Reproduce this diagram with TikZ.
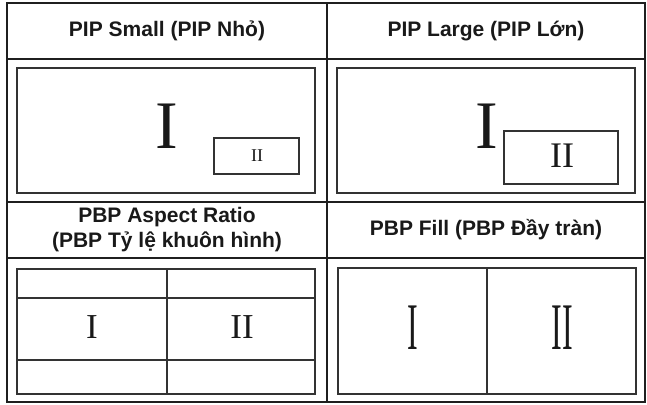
\documentclass[tikz,border=0pt]{standalone}
\usepackage{fontspec}
\setmainfont{Liberation Sans}
\newfontfamily\numfont{Liberation Serif}
\begin{document}
\begin{tikzpicture}[x=1pt,y=-1pt,
  outer/.style={draw=black!88,line width=2pt},
  inner/.style={draw=black!80,line width=1.3pt},
  head/.style={font=\fontsize{21}{25}\selectfont\bfseries,align=center,text=black!90},
  num/.style={anchor=base,inner sep=0pt,text=black!90}]
\useasboundingbox (0,0) rectangle (647,404);
% outer grid
\draw[outer] (7,3) rectangle (645,402);
\draw[outer] (327,3) -- (327,402);
\draw[outer] (7,59) -- (645,59);
\draw[outer] (7,202) -- (645,202);
\draw[outer] (7,258) -- (645,258);
% headers
\node[head] (h1) at (167,31) {PIP Small (PIP Nhỏ)};
\node[head] (h2) at (486,31) {PIP Large (PIP Lớn)};
\node[head] (h3) at (167,230) {PBP Aspect Ratio\\(PBP Tỷ lệ khuôn hình)};
\node[head] (h4) at (486,230) {PBP Fill (PBP Đầy tràn)};
% PIP Small
\draw[inner] (17,68) rectangle (315,193);
\draw[inner] (214,138) rectangle (299,174);
\node[num,font=\numfont\fontsize{68}{68}\selectfont] (s1) at (167,148) {I};
\node[num,font=\numfont\fontsize{18}{18}\selectfont] (s2) at (257,161) {II};
% PIP Large
\draw[inner] (337,68) rectangle (635,193);
\draw[inner] (504,131) rectangle (618,184);
\node[num,font=\numfont\fontsize{68}{68}\selectfont] (l1) at (487,148) {I};
\node[num,font=\numfont\fontsize{36}{36}\selectfont] (l2) at (562,167) {II};
% PBP Aspect Ratio
\draw[inner] (17,269) rectangle (315,394);
\draw[inner] (167,269) -- (167,394);
\draw[inner] (17,298) -- (315,298);
\draw[inner] (17,360) -- (315,360);
\node[num,font=\numfont\fontsize{35}{35}\selectfont] (a1) at (92,338) {I};
\node[num,font=\numfont\fontsize{35}{35}\selectfont] (a2) at (242,338) {II};
% PBP Fill
\draw[inner] (338,268) rectangle (636,394);
\draw[inner] (487,268) -- (487,394);
\node[num,font=\numfont\fontsize{32}{32}\selectfont,yscale=2.08] (f1) at (413,349) {I};
\node[num,font=\numfont\fontsize{32}{32}\selectfont,yscale=2.08] (f2) at (562,349) {II};
\end{tikzpicture}
\end{document}
